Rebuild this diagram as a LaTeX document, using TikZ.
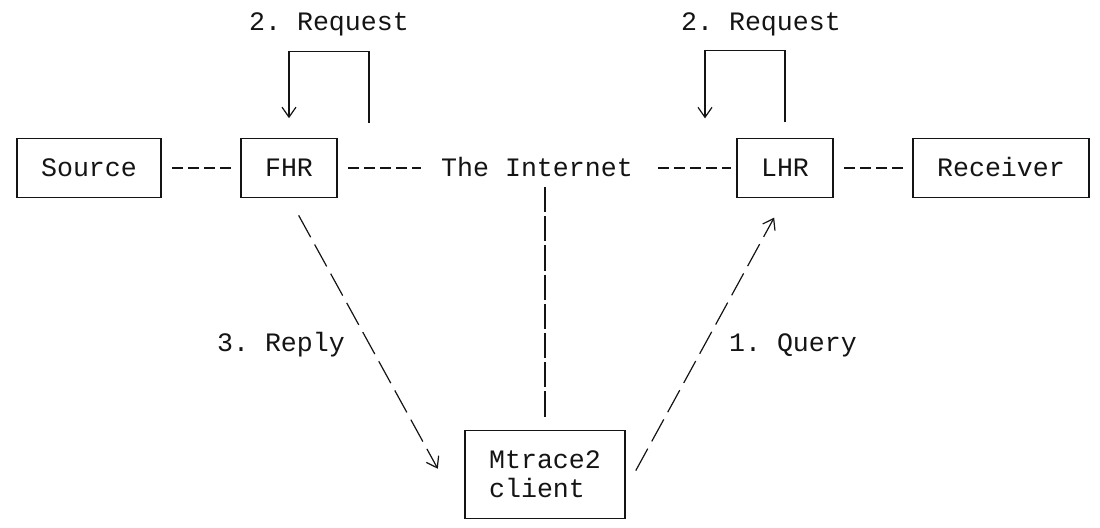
\documentclass[tikz,border=0pt]{standalone}
\usepackage{fontspec}
\setmonofont{Liberation Mono}
\usepackage{tikz}
\usetikzlibrary{arrows.meta}
\definecolor{inkBlack}{RGB}{20, 20, 20}

\begin{document}
\begin{tikzpicture}[x=8pt, y=-14.6pt, color=inkBlack,
        font=\ttfamily\fontsize{13.3}{14.6}\selectfont,
        lbl/.style={inner sep=0pt, text height=8.6pt, text depth=0pt},
        box/.style={draw, line width=0.6pt, inner sep=0pt, minimum height=29.2pt, text height=8.6pt, text depth=0pt},
        link/.style={line width=0.6pt, dash pattern=on 5.33pt off 2.67pt, dash phase=5.33pt, shorten <=2.67pt, shorten >=2.67pt},
        wire/.style={line width=0.6pt},
        diag/.style={line width=0.6pt, dash pattern=on 12.5pt off 4.15pt},
        arrowv/.style={-{Straight Barb[length=5pt, width=7pt, line width=0.6pt]}}]
        \useasboundingbox (-1.0625,-0.753) rectangle (67.6875,17.295);

        \node[box, minimum width=72pt] (source) at (4.5,5) {Source};
        \node[box, minimum width=48pt] (fhr) at (17,5) {FHR};
        \node[box, minimum width=48pt] (lhr) at (48,5) {LHR};
        \node[box, minimum width=88pt] (receiver) at (61.5,5) {Receiver};
        \node[lbl, inner xsep=7.2pt] (inet) at (32.5,5) {The Internet};
        \node[draw, line width=0.6pt, inner sep=0pt, minimum width=80pt, minimum height=43.8pt, align=left] (client) at (33,15.5) {Mtrace2\\client};

        \node[lbl] (reqfhr) at (19.5,0) {2. Request};
        \node[lbl] (reqlhr) at (46.5,0) {2. Request};
        \node[lbl] (reply) at (16.5,11) {3. Reply};
        \node[lbl] (query) at (48.5,11) {1. Query};

        \coordinate (fhrloop) at (22,3.46);
        \coordinate (lhrloop) at (43,3.3);
        \coordinate (replyend) at (26.3,15.3);

        \draw[link] (source) -- (fhr);
        \draw[link] (fhr) -- (inet);
        \draw[link] (inet) -- (lhr);
        \draw[link] (lhr) -- (receiver);

        \draw[wire, arrowv, shorten >=10pt] (fhrloop) -- ++(0,-2.46) -| (fhr.north);
        \draw[wire, arrowv, shorten <=7.9pt] (lhr.north) -- ++(0,-3) -| (lhrloop);

        \draw[wire, dash pattern=on 12.6pt off 2pt, shorten <=9.5pt, shorten >=6.5pt] (inet -| client) -- (client.north);

        \draw[diag, arrowv, shorten <=10pt] (fhr.south) -- (replyend);
        \draw[diag, arrowv, shorten <=10.6pt, shorten >=11.3pt] ([yshift=-7.3pt]client.east) -- (lhr.south);
\end{tikzpicture}
\end{document}
